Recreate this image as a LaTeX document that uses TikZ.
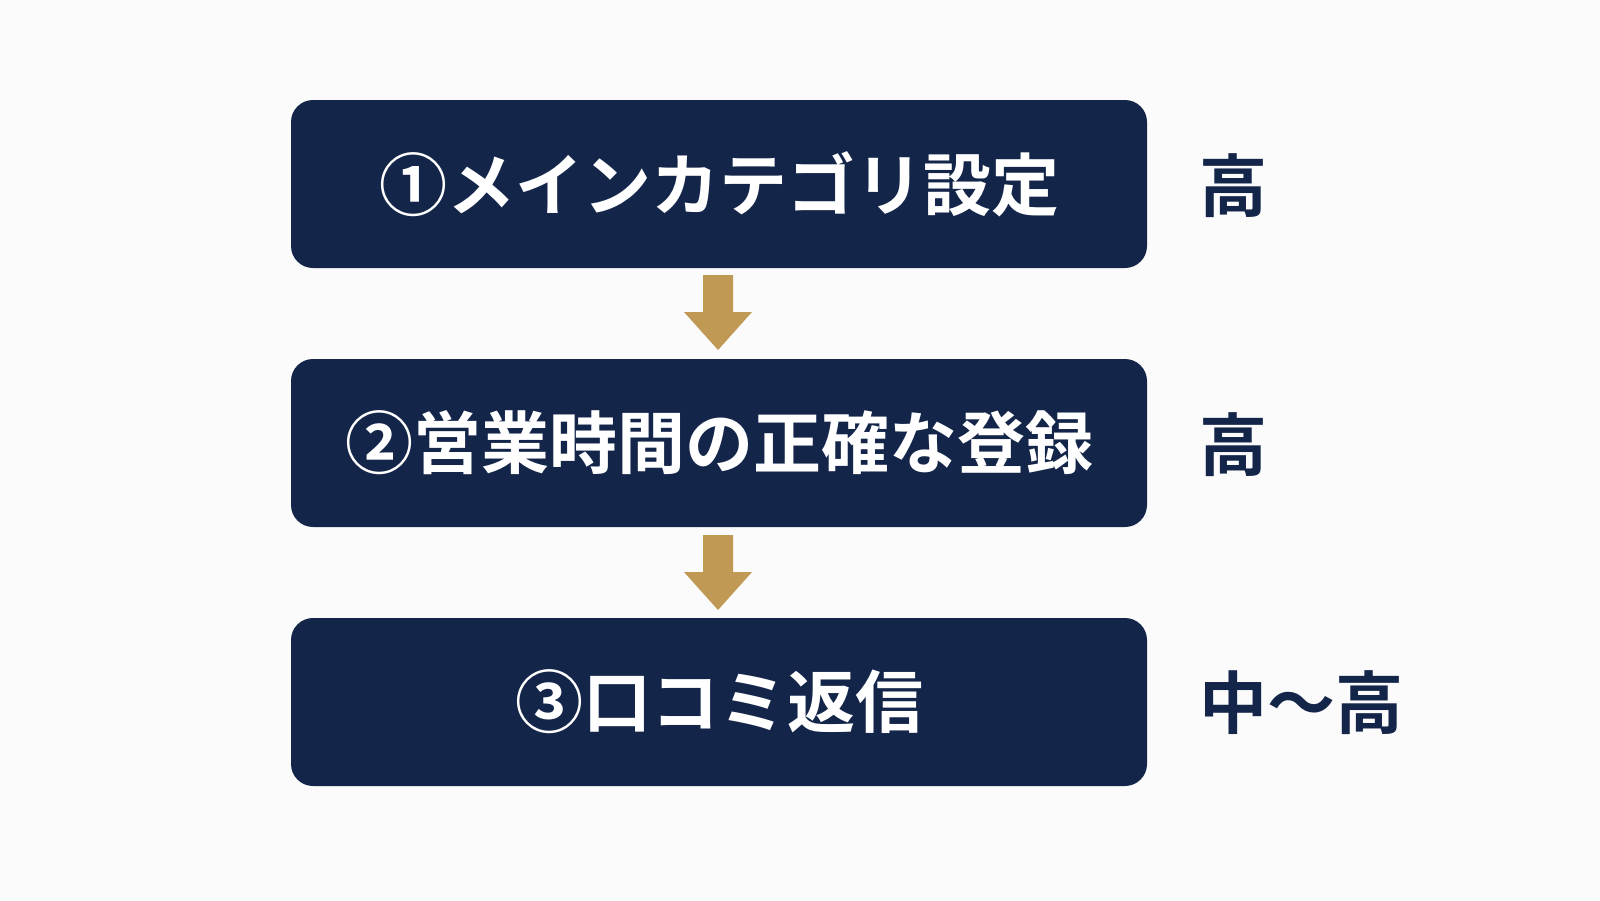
\documentclass[tikz,border=0pt]{standalone}
\usepackage{fontspec}
\newfontfamily\cjk{Noto Sans CJK JP}[BoldFont={Noto Sans CJK JP Bold}]
\definecolor{navy}{HTML}{14254A}
\definecolor{gold}{HTML}{C09A55}
\begin{document}
\begin{tikzpicture}[x=0.5pt,y=-0.5pt,
  box/.style={fill=navy,rounded corners=11pt,minimum width=428pt,minimum height=84pt,inner sep=0pt,text=white,font=\cjk\bfseries\fontsize{34}{38}\selectfont},
  lvl/.style={text=navy,font=\cjk\bfseries\fontsize{34}{38}\selectfont,anchor=west,inner sep=0pt},
  arr/.style={fill=gold}]
\fill[white!97!gray] (0,0) rectangle (1600,900);
\useasboundingbox (0,0) rectangle (1600,900);
\node[box] (b1) at (719,184) {①メインカテゴリ設定};
\node[box] (b2) at (719,443) {②営業時間の正確な登録};
\node[box] (b3) at (719,702) {③口コミ返信};
\node[lvl] (l1) at (1199,186) {高};
\node[lvl] (l2) at (1199,445) {高};
\node[lvl] (l3) at (1199,703) {中〜高};
\coordinate (a1) at (718,275);
\coordinate (a2) at (718,535);
\foreach \a in {a1,a2}{
  \fill[arr] ([xshift=-7.5pt]\a) -- ([xshift=7.5pt]\a) -- ([xshift=7.5pt,yshift=-18.5pt]\a) -- ([xshift=17pt,yshift=-18.5pt]\a) -- ([yshift=-37.5pt]\a) -- ([xshift=-17pt,yshift=-18.5pt]\a) -- ([xshift=-7.5pt,yshift=-18.5pt]\a) -- cycle;
}
\end{tikzpicture}
\end{document}
